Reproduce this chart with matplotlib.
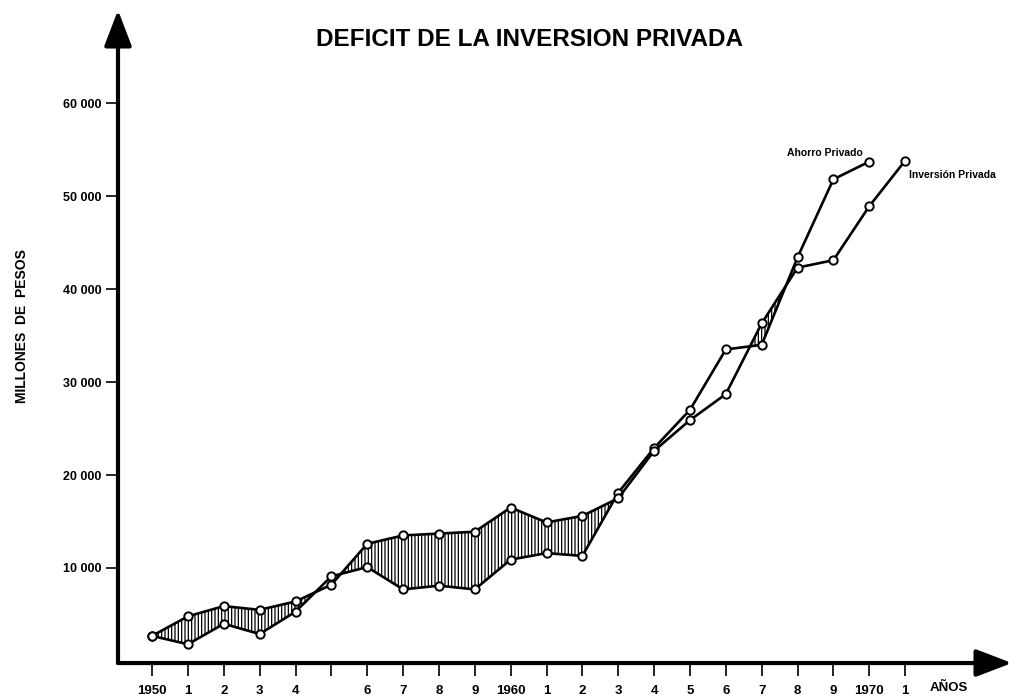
"""
Deficit de la inversion privada: Ahorro privado vs. Inversion privada, 1950-1971.
"""

import matplotlib
matplotlib.use('Agg')
import matplotlib.pyplot as plt
import numpy as np

plt.rcParams['font.family'] = ['Liberation Sans', 'DejaVu Sans']
plt.rcParams['hatch.linewidth'] = 0.9

# --- Daten (Millionen Pesos) ---
years_ahorro = list(range(1950, 1971))
years_inversion = list(range(1950, 1972))

ahorro = [2700, 1800, 4000, 2900, 5300, 9100, 10100, 7700, 8100, 7700,
          10900, 11600, 11300, 18100, 22900, 27000, 33500, 34000, 43400,
          51800, 53700]
inversion = [2700, 4800, 5900, 5500, 6400, 8200, 12600, 13500, 13700, 13900,
             16500, 14900, 15600, 17500, 22600, 25900, 28700, 36300, 42300,
             43100, 48900, 53800]

x_ticks = list(range(1950, 1972))
x_labels = ['1950', '1', '2', '3', '4', '', '6', '7', '8', '9',
            '1960', '1', '2', '3', '4', '5', '6', '7', '8', '9',
            '1970', '1']
y_ticks = [10000, 20000, 30000, 40000, 50000, 60000]
y_labels = ['10 000', '20 000', '30 000', '40 000', '50 000', '60 000']

fig = plt.figure(figsize=(10.19, 6.98), dpi=100)
ax = fig.add_axes([0.1158, 0.0501, 0.8773, 0.9355])
ax.set_xlim(1949.05, 1973.98)
ax.set_ylim(-220, 70000)

# --- Schraffierte Flaeche: Inversion > Ahorro ---
yrs = np.array(years_ahorro)
inv_common = np.array(inversion[:len(years_ahorro)])
aho = np.array(ahorro)
ax.fill_between(yrs, aho, inv_common, where=inv_common > aho, interpolate=True,
                facecolor='white', edgecolor='black', hatch='|||||',
                linewidth=0, zorder=1)

# --- Linien ---
marker_style = dict(marker='o', markersize=6, markerfacecolor='white',
                    markeredgecolor='black', markeredgewidth=1.4)
ax.plot(years_ahorro, ahorro, color='black', linewidth=1.9, zorder=3,
        **marker_style)
ax.plot(years_inversion, inversion, color='black', linewidth=1.9, zorder=3,
        **marker_style)

ax.annotate('Ahorro Privado', xy=(years_ahorro[-1], ahorro[-1]),
            xytext=(-5, 6), textcoords='offset points', ha='right',
            va='center', fontsize=7.5, fontweight='bold')
ax.annotate('Inversión Privada', xy=(years_inversion[-1], inversion[-1]),
            xytext=(3, -10), textcoords='offset points', ha='left',
            va='center', fontsize=7.5, fontweight='bold')

# --- Achsen mit Pfeilen ---
for s in ax.spines.values():
    s.set_visible(False)
arrow = dict(arrowstyle='-|>,head_length=1.1,head_width=0.42', lw=3,
             color='black', shrinkA=0, shrinkB=0, mutation_scale=20)
ax.annotate('', xy=(1, 0), xytext=(0, 0), xycoords='axes fraction',
            textcoords='axes fraction', arrowprops=arrow)
ax.annotate('', xy=(0, 1), xytext=(0, 0), xycoords='axes fraction',
            textcoords='axes fraction', arrowprops=arrow)

ax.set_xticks(x_ticks)
ax.set_xticklabels(x_labels, fontsize=9.5, fontweight='bold')
ax.set_yticks(y_ticks)
ax.set_yticklabels(y_labels, fontsize=9, fontweight='bold')
ax.tick_params(axis='x', direction='out', length=9, width=1.2, pad=7)
ax.tick_params(axis='y', direction='out', length=9, width=1.2, pad=3)

fig.text(22 / 1019, 1 - 326 / 698, 'MILLONES  DE  PESOS', rotation=90,
         ha='center', va='center', fontsize=10, fontweight='bold')
fig.text(930 / 1019, 1 - 688 / 698, 'AÑOS', ha='left', va='center',
         fontsize=9.5, fontweight='bold')
fig.text(529 / 1019, 1 - 40 / 698, 'DEFICIT DE LA INVERSION PRIVADA',
         ha='center', va='center', fontsize=17.5, fontweight='bold')

fig.savefig('out.png', dpi=100)
